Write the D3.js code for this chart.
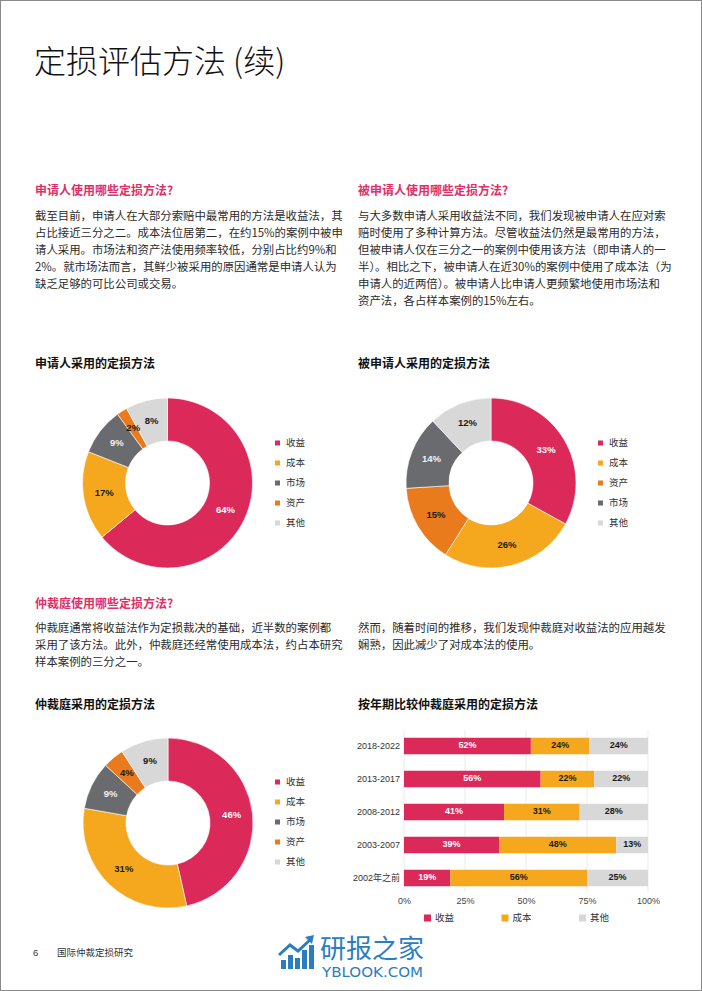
<!DOCTYPE html>
<html><head><meta charset="utf-8">
<script src="https://cdn.jsdelivr.net/npm/d3@7"></script>
<style>
html,body{margin:0;padding:0;background:#fff;}
svg{display:block;}
</style></head>
<body>
<svg id="page" width="702" height="991"></svg>
<script>
// ---------------- DATA ----------------
const pageTitle = "定损评估方法 (续)";
const head1 = "申请人使用哪些定损方法?";
const head2 = "被申请人使用哪些定损方法?";
const head3 = "仲裁庭使用哪些定损方法?";
const para1 = ["截至目前，申请人在大部分索赔中最常用的方法是收益法，其",
  "占比接近三分之二。成本法位居第二，在约15%的案例中被申",
  "请人采用。市场法和资产法使用频率较低，分别占比约9%和",
  "2%。就市场法而言，其鲜少被采用的原因通常是申请人认为",
  "缺乏足够的可比公司或交易。"];
const para2 = ["与大多数申请人采用收益法不同，我们发现被申请人在应对索",
  "赔时使用了多种计算方法。尽管收益法仍然是最常用的方法，",
  "但被申请人仅在三分之一的案例中使用该方法（即申请人的一",
  "半）。相比之下，被申请人在近30%的案例中使用了成本法（为",
  "申请人的近两倍）。被申请人比申请人更频繁地使用市场法和",
  "资产法，各占样本案例的15%左右。"];
const para3 = ["仲裁庭通常将收益法作为定损裁决的基础，近半数的案例都",
  "采用了该方法。此外，仲裁庭还经常使用成本法，约占本研究",
  "样本案例的三分之一。"];
const para4 = ["然而，随着时间的推移，我们发现仲裁庭对收益法的应用越发",
  "娴熟，因此减少了对成本法的使用。"];

const chartTitle1 = "申请人采用的定损方法";
const chartTitle2 = "被申请人采用的定损方法";
const chartTitle3 = "仲裁庭采用的定损方法";
const chartTitle4 = "按年期比较仲裁庭采用的定损方法";

const pieCats1 = ["收益","成本","市场","资产","其他"];
const pieVals1 = [64,17,9,2,8];
const pieCats2 = ["收益","成本","资产","市场","其他"];
const pieVals2 = [33,26,15,14,12];
const pieCats3 = ["收益","成本","市场","资产","其他"];
const pieVals3 = [46,31,9,4,9];

const periods = ["2018-2022","2013-2017","2008-2012","2003-2007","2002年之前"];
const barSeries = ["收益","成本","其他"];
const incomeVals = [52,56,41,39,19];
const costVals = [24,22,31,48,56];
const otherVals = [24,22,28,13,25];
const xTickVals = [0,25,50,75,100];

const footerNum = "6";
const footerText = "国际仲裁定损研究";

// ---------------- STYLE ----------------
const colors = {"收益":"#db2a5a","成本":"#f5a81e","市场":"#6a6b6e","资产":"#e97b1c","其他":"#d8d8d8"};
const labelColor = {"收益":"#ffffff","成本":"#1a1a1a","市场":"#f2f2f2","资产":"#1a1a1a","其他":"#1a1a1a"};
const CJK = "'Noto Sans CJK SC','Noto Sans',sans-serif";
const LAT = "'Liberation Sans',Arial,'Noto Sans CJK SC',sans-serif";
const pink = "#df2f68";

const svg = d3.select("#page");
svg.append("rect").attr("x",0.5).attr("y",0.5).attr("width",701).attr("height",990)
  .attr("fill","#fff").attr("stroke","#8a8a8a").attr("stroke-width",1);

// title
svg.append("text").attr("x",34).attr("y",73).text(pageTitle)
  .attr("font-family",CJK).attr("font-size",32).attr("font-weight",300).attr("fill","#111");

function heading(x,y,t){
  svg.append("text").attr("x",x).attr("y",y).text(t).attr("font-family",CJK)
    .attr("font-size",12).attr("font-weight",700).attr("fill",pink).attr("dominant-baseline","middle");
}
function para(x,y,lines){
  const g = svg.append("g");
  lines.forEach((l,i)=>{
    g.append("text").attr("x",x).attr("y",y+i*17).text(l).attr("font-family",CJK)
      .attr("font-size",11.4).attr("fill","#2b2b2b").attr("dominant-baseline","middle");
  });
}
function ctitle(x,y,t){
  svg.append("text").attr("x",x).attr("y",y).text(t).attr("font-family",CJK)
    .attr("font-size",12).attr("font-weight",700).attr("fill","#111").attr("dominant-baseline","middle");
}

heading(35,192,head1); para(35,217,para1);
heading(358,192,head2); para(358,217,para2);
heading(35,605,head3); para(35,629,para3);
para(358,629,para4);

ctitle(35,365,chartTitle1); ctitle(358,365,chartTitle2);
ctitle(35,706,chartTitle3); ctitle(358,706,chartTitle4);

// ---------------- DONUTS ----------------
function donut(cx,cy,cats,vals,legX,legY){
  const R = 85, r = 42;
  const data = cats.map((c,i)=>({cat:c,val:vals[i]}));
  const pie = d3.pie().sort(null).value(d=>d.val);
  const arc = d3.arc().innerRadius(r).outerRadius(R);
  const lab = d3.arc().innerRadius(64).outerRadius(64);
  const g = svg.append("g").attr("transform",`translate(${cx},${cy})`);
  const arcs = pie(data);
  g.selectAll("path").data(arcs).join("path").attr("d",arc)
    .attr("fill",d=>colors[d.data.cat]).attr("stroke","#fff").attr("stroke-width",0.6);
  g.selectAll("text").data(arcs).join("text")
    .attr("transform",d=>`translate(${lab.centroid(d)})`)
    .attr("text-anchor","middle").attr("dominant-baseline","middle")
    .attr("font-family",LAT).attr("font-weight",700).attr("font-size",9.5)
    .attr("fill",d=>labelColor[d.data.cat]).text(d=>d.data.val+"%");
  const lg = svg.append("g").attr("transform",`translate(${legX},${legY})`);
  const items = lg.selectAll("g").data(cats).join("g").attr("transform",(d,i)=>`translate(0,${i*20})`);
  items.append("rect").attr("x",0).attr("y",-2.5).attr("width",5).attr("height",5).attr("fill",d=>colors[d]);
  items.append("text").attr("x",11).attr("y",0).attr("dominant-baseline","middle")
    .attr("font-family",CJK).attr("font-size",9.5).attr("fill","#333").text(d=>d);
}
donut(167.5,483,pieCats1,pieVals1,275,443);
donut(491,483,pieCats2,pieVals2,598,443);
donut(168,823,pieCats3,pieVals3,275,782);

// ---------------- STACKED BAR ----------------
const x = d3.scaleLinear().domain([0,100]).range([404,648]);
const y = d3.scaleBand().domain(periods).range([729.5,894.5]).paddingInner(0.5).paddingOuter(0.25);
const bg = svg.append("g");
bg.selectAll("line.grid").data(xTickVals).join("line").attr("class","grid")
  .attr("x1",d=>x(d)).attr("x2",d=>x(d)).attr("y1",730).attr("y2",892)
  .attr("stroke","#e6e6e6").attr("stroke-width",0.8);
const rows = periods.map((p,i)=>({period:p,"收益":incomeVals[i],"成本":costVals[i],"其他":otherVals[i]}));
const stack = d3.stack().keys(barSeries)(rows);
const sg = bg.selectAll("g.series").data(stack).join("g").attr("class","series");
sg.selectAll("rect").data(s=>s.map(d=>({key:s.key,d}))).join("rect")
  .attr("x",o=>x(o.d[0])).attr("width",o=>x(o.d[1])-x(o.d[0]))
  .attr("y",o=>y(o.d.data.period)).attr("height",y.bandwidth())
  .attr("fill",o=>colors[o.key]);
sg.selectAll("text").data(s=>s.map(d=>({key:s.key,d}))).join("text")
  .attr("x",o=>(x(o.d[0])+x(o.d[1]))/2).attr("y",o=>y(o.d.data.period)+y.bandwidth()/2)
  .attr("text-anchor","middle").attr("dominant-baseline","middle")
  .attr("font-family",LAT).attr("font-weight",700).attr("font-size",9)
  .attr("fill",o=>o.key==="收益"?"#fff":"#1a1a1a")
  .text(o=>(o.d[1]-o.d[0])+"%");
// y axis labels
const yAxis = d3.axisLeft(y).tickSize(0).tickPadding(4);
const ya = svg.append("g").attr("transform","translate(404,0)").call(yAxis);
ya.select(".domain").remove();
ya.selectAll("text").attr("font-family",LAT).attr("font-size",9).attr("fill","#333");
// x axis
const xAxis = d3.axisBottom(x).tickValues(xTickVals).tickFormat(d=>d+"%").tickSize(0).tickPadding(4);
const xa = svg.append("g").attr("transform","translate(0,894)").call(xAxis);
xa.select(".domain").remove();
xa.selectAll("text").attr("font-family",LAT).attr("font-size",9).attr("fill","#444");
// legend
const bl = svg.append("g").selectAll("g").data(barSeries).join("g")
  .attr("transform",(d,i)=>`translate(${424+i*77.5},918)`);
bl.append("rect").attr("x",0).attr("y",-3.5).attr("width",7).attr("height",7).attr("fill",d=>colors[d]);
bl.append("text").attr("x",11).attr("y",0).attr("dominant-baseline","middle")
  .attr("font-family",CJK).attr("font-size",9.5).attr("fill","#333").text(d=>d);

// ---------------- FOOTER ----------------
svg.append("text").attr("x",33).attr("y",953).text(footerNum).attr("font-family",LAT)
  .attr("font-size",9.5).attr("fill","#333").attr("dominant-baseline","middle");
svg.append("text").attr("x",57).attr("y",953).text(footerText).attr("font-family",CJK)
  .attr("font-size",9.5).attr("fill","#333").attr("dominant-baseline","middle");

// watermark logo
const blue = "#2a7dc3";
const wm = svg.append("g");
[[281,960,5,9],[288,955,5,14],[295,958,5,11],[302,950,5,19],[309,945,5,24]].forEach(b=>{
  wm.append("rect").attr("x",b[0]).attr("y",b[1]).attr("width",b[2]).attr("height",b[3]).attr("fill",blue);
});
wm.append("polyline").attr("points","279,955 290,945 298,951 311,939").attr("fill","none")
  .attr("stroke",blue).attr("stroke-width",3);
wm.append("polygon").attr("points","305,937 314,935 312,944").attr("fill",blue);
wm.append("text").attr("x",320).attr("y",951).text("研报之家").attr("font-family",CJK)
  .attr("font-size",26).attr("fill",blue).attr("dominant-baseline","middle");
wm.append("text").attr("x",322).attr("y",973).text("YBLOOK.COM").attr("font-family","'DejaVu Sans',sans-serif")
  .attr("font-size",13.5).attr("fill",blue).attr("dominant-baseline","middle")
  .attr("textLength",101).attr("lengthAdjust","spacingAndGlyphs");
</script>
</body></html>
